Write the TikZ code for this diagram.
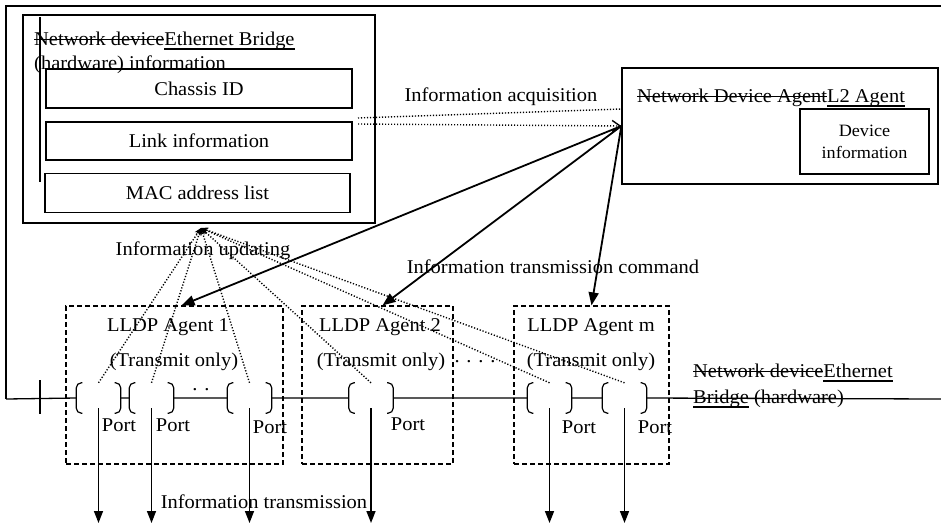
\documentclass[tikz,border=0pt]{standalone}
\usepackage{fontspec}
\setmainfont{Liberation Serif}[FakeStretch=1.05]
\usetikzlibrary{positioning,calc,arrows.meta}
\newcommand{\fsz}[2]{\fontsize{#1}{#2}\selectfont}
\newsavebox{\markbox}
\newcommand{\strk}[1]{\sbox{\markbox}{#1}\rlap{\rule[0.27em]{\wd\markbox}{1.2pt}}\usebox{\markbox}}
\newcommand{\undl}[1]{\sbox{\markbox}{#1}\rlap{\rule[-0.2em]{\wd\markbox}{1.2pt}}\usebox{\markbox}}

\begin{document}
\begin{tikzpicture}[x=1pt,y=-1pt]
		\tikzstyle{box} = [draw, line width=1.3, inner sep=0, font=\fsz{19.5}{23}]
		\tikzstyle{agentbox} = [draw, line width=1.2, dash pattern=on 5pt off 3pt, minimum height=158, inner sep=0]
		\tikzstyle{portnode} = [minimum width=44, minimum height=30, inner sep=0]
		\tikzstyle{lbl} = [inner sep=1, font=\fsz{19.5}{23}]
		\tikzstyle{cmdarrow} = [line width=1.8, -{Triangle[length=13pt,width=10pt]}]
		\tikzstyle{txarrow} = [line width=1.6, -{Triangle[length=12pt,width=9pt]}]
		\tikzstyle{dotline} = [line width=1.4, dash pattern=on 1.2pt off 1.8pt]
		\useasboundingbox (0,0) rectangle (941,528);

		% bridge outline and bus ends
		\coordinate (busL) at (6,399);
		\coordinate (busR) at (941,399);
		\draw[line width=1.3] (941,6) -- (6,6) -- (busL);

		% bridge information
		\node [box, minimum width=352, minimum height=208] (info) at (199,119) {};
		\node [anchor=north west, align=left, inner sep=0, font=\fsz{19.5}{23.5}] (infotitle) at (34,32) {\strk{Network device}\undl{Ethernet Bridge}\\(hardware) information};
		\node [box, minimum width=306, minimum height=39] (chassis) at (199,88.5) {Chassis ID};
		\node [box, minimum width=306, minimum height=38] (link) at (199,141) {Link information};
		\node [box, minimum width=305, minimum height=39] (mac) at (197.5,193) {MAC address list};
		\draw[line width=1.3] (40,17) -- (40,182);

		% L2 agent
		\node [box, minimum width=316, minimum height=116] (l2) at (780,126) {};
		\node [anchor=west, inner sep=0, font=\fsz{19.5}{22}] (l2title) at (637,98) {\strk{Network Device Agent}\undl{L2 Agent}};
		\node [box, minimum width=129, minimum height=65, align=center, font=\fsz{17.3}{22}] (devinfo) at (864.5,141.5) {Device\\information};

		% LLDP agents
		\node [agentbox, minimum width=217] (a1) at (174.5,385) {};
		\node [agentbox, minimum width=151] (a2) at (377.5,385) {};
		\node [agentbox, minimum width=155] (am) at (591.5,385) {};
		\node [lbl] (a1name) at (168,327) {LLDP Agent 1};
		\node [lbl] (a1mode) at (174,362) {(Transmit only)};
		\node [lbl] (a2name) at (380,327) {LLDP Agent 2};
		\node [lbl] (a2mode) at (381,362) {(Transmit only)};
		\node [lbl] (amname) at (591,327) {LLDP Agent m};
		\node [lbl] (ammode) at (591,362) {(Transmit only)};
		\node [lbl] (agentdots) at (475,362) {. . . .};

		% ports on the bus
		\foreach \n/\x in {p1/98.5, p2/151.5, p3/249.5, p4/371, q1/549.5, q2/624.5}
			\node [portnode] (\n) at (\x,398) {};
		\foreach \n in {p1,p2,p3,p4,q1,q2} {
			\draw[line width=1.2, rounded corners=5] ([xshift=6]\n.north west) -- (\n.north west) -- (\n.south west) -- ([xshift=6]\n.south west);
			\draw[line width=1.2, rounded corners=5] ([xshift=-6]\n.north east) -- (\n.north east) -- (\n.south east) -- ([xshift=-6]\n.south east);
		}
		\draw[line width=1.3] (busL) -- (p1.west) (p1.east) -- (p2.west) (p2.east) -- (p3.west) (p3.east) -- (p4.west) (p4.east) -- (q1.west) (q1.east) -- (q2.west) (q2.east) -- (busR);
		\draw[line width=1.3] (40,380) -- (40,414);
		\node [lbl] (portdots) at (201,390) {. .};
		\node [lbl] (p1lbl) at (119,425) {Port};
		\node [lbl] (p2lbl) at (173,425) {Port};
		\node [lbl] (p3lbl) at (270,427) {Port};
		\node [lbl] (p4lbl) at (408,424) {Port};
		\node [lbl] (q1lbl) at (579,427) {Port};
		\node [lbl] (q2lbl) at (655,427) {Port};
		\node [anchor=north west, align=left, inner sep=0, font=\fsz{19.5}{26}] (bridgelbl) at (693,364) {\strk{Network device}\undl{Ethernet}\\\undl{Bridge} (hardware)};

		% information transmission
		\foreach \n in {p1,p2,p3,p4,q1,q2}
			\draw[txarrow] ([yshift=-10pt]\n.center) -- ++(0,115);
		\node [lbl] (txlbl) at (264,502) {Information transmission};

		% information updating
		\coordinate (upd) at (201,228);
		\foreach \n in {p1,p2,p3,p4,q1,q2}
			\draw[dotline, -{Stealth[length=7pt,width=6pt]}] (\n.north) -- (upd);
		\node [lbl] (updlbl) at (203,251) {Information updating};

		% information acquisition
		\coordinate (acq1) at (358,118);
		\coordinate (acq2) at (358,124);
		\draw[dotline] (acq1) -- ([yshift=17pt]l2.west);
		\draw[dotline, -{Straight Barb[length=8pt,width=11pt]}] (acq2) -- (l2.west);
		\node [lbl] (acqlbl) at (501,97) {Information acquisition};

		% information transmission command
		\draw[cmdarrow] (l2.west) -- ([xshift=7pt]a1.north);
		\draw[cmdarrow] (l2.west) -- ([xshift=5pt]a2.north);
		\draw[cmdarrow] (l2.west) -- (am.north);
		\node [lbl] (cmdlbl) at (553,267) {Information transmission command};
\end{tikzpicture}
\end{document}
